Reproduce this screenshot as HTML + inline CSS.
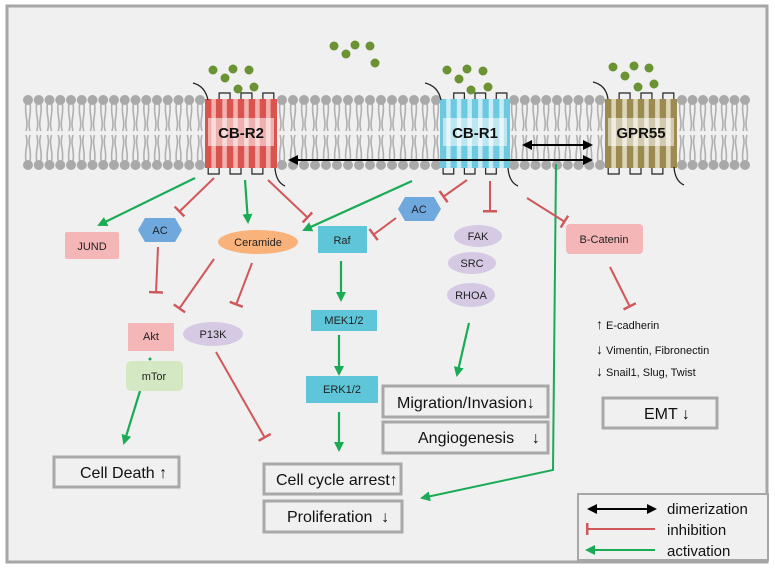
<!DOCTYPE html>
<html><head><meta charset="utf-8"><style>
html,body{margin:0;padding:0;background:#fff}
svg{display:block}
text{font-family:"Liberation Sans",sans-serif}
</style></head><body>
<svg id="s" width="775" height="570" viewBox="0 0 775 570" xmlns="http://www.w3.org/2000/svg">
<defs>
<marker id="ga" markerWidth="10" markerHeight="10" refX="8" refY="5" orient="auto" markerUnits="userSpaceOnUse"><path d="M0,0 L10,5 L0,10 z" fill="#1aab55"/></marker>
<marker id="ka" markerWidth="10" markerHeight="10" refX="8" refY="5" orient="auto-start-reverse" markerUnits="userSpaceOnUse"><path d="M0,0 L10,5 L0,10 z" fill="#000"/></marker>
<marker id="rb" markerWidth="4" markerHeight="14" refX="2" refY="7" orient="auto" markerUnits="userSpaceOnUse"><rect x="0" y="0" width="2.5" height="14" fill="#d0585a"/></marker>
</defs>
<rect x="7" y="6" width="760" height="556" fill="#f0f0f0" stroke="#a6a6a6" stroke-width="3"/>
<g id="mem"></g>
<g id="rec"></g>
<g fill="#6b9334">
<circle cx="213" cy="70" r="4.5"/><circle cx="233" cy="69" r="4.5"/><circle cx="249" cy="70" r="4.5"/><circle cx="225" cy="78" r="4.5"/><circle cx="238" cy="89" r="4.5"/><circle cx="254" cy="87" r="4.5"/>
<circle cx="334" cy="46" r="4.5"/><circle cx="355" cy="45" r="4.5"/><circle cx="370" cy="46" r="4.5"/><circle cx="346" cy="54" r="4.5"/><circle cx="375" cy="63" r="4.5"/>
<circle cx="447" cy="70" r="4.5"/><circle cx="467" cy="69" r="4.5"/><circle cx="483" cy="71" r="4.5"/><circle cx="459" cy="79" r="4.5"/><circle cx="471" cy="90" r="4.5"/><circle cx="488" cy="87" r="4.5"/>
<circle cx="613" cy="67" r="4.5"/><circle cx="634" cy="66" r="4.5"/><circle cx="649" cy="68" r="4.5"/><circle cx="625" cy="76" r="4.5"/><circle cx="638" cy="87" r="4.5"/><circle cx="654" cy="84" r="4.5"/>
</g>
<g fill="none" stroke="#222" stroke-width="1.3">
<path d="M193,83 Q205,86 208,100"/><path d="M275,168 Q276,182 285,186"/>
<path d="M425,83 Q438,86 441,100"/><path d="M508,168 Q509,182 518,186"/>
<path d="M593,82 Q606,85 608,99"/><path d="M674,167 Q675,181 684,185"/>
</g>
<!-- dimerization arrows -->
<line x1="290" y1="160" x2="591" y2="160" stroke="#000" stroke-width="2" marker-start="url(#ka)" marker-end="url(#ka)"/>
<line x1="524" y1="145" x2="591" y2="145" stroke="#000" stroke-width="2" marker-start="url(#ka)" marker-end="url(#ka)"/>
<!-- green long -->
<polyline points="556,164 553,470 422,498" fill="none" stroke="#1aab55" stroke-width="2" marker-end="url(#ga)"/>
<!-- green arrows -->
<g stroke="#1aab55" stroke-width="2.2" fill="none" marker-end="url(#ga)">
<line x1="195" y1="178" x2="99" y2="225"/>
<line x1="245" y1="180" x2="248" y2="222"/>
<line x1="412" y1="181" x2="304" y2="230"/>
<line x1="341" y1="261" x2="341" y2="300"/>
<line x1="339" y1="335" x2="339" y2="374"/>
<line x1="339" y1="412" x2="339" y2="450"/>
<line x1="140" y1="391" x2="124" y2="443"/>
<line x1="469" y1="323" x2="457" y2="375"/>
</g>
<circle cx="150" cy="359" r="1.5" fill="#1aab55"/>
<!-- red inhibition -->
<g stroke="#d0585a" stroke-width="2" fill="none" marker-end="url(#rb)">
<line x1="214" y1="178" x2="179" y2="212"/>
<line x1="268" y1="180" x2="308" y2="218"/>
<line x1="158" y1="247" x2="156" y2="293"/>
<line x1="214" y1="259" x2="179" y2="309"/>
<line x1="252" y1="263" x2="236" y2="305"/>
<line x1="467" y1="180" x2="443" y2="197"/>
<line x1="490" y1="181" x2="490" y2="212"/>
<line x1="527" y1="198" x2="565" y2="222"/>
<line x1="396" y1="218" x2="373" y2="235"/>
<line x1="216" y1="352" x2="265" y2="438"/>
<line x1="610" y1="267" x2="630" y2="307"/>
</g>
<!-- nodes -->
<rect x="65" y="232" width="54" height="27" rx="2" fill="#f4b6b7"/>
<text x="92" y="250" font-size="11" text-anchor="middle" fill="#222">JUND</text>
<polygon points="138,230 145,218 175,218 182,230 175,242 145,242" fill="#6fa8dc"/>
<text x="160" y="234" font-size="11" text-anchor="middle" fill="#222">AC</text>
<ellipse cx="258" cy="242" rx="40" ry="12" fill="#f9b27a"/>
<text x="258" y="246" font-size="11" text-anchor="middle" fill="#222">Ceramide</text>
<rect x="318" y="226" width="49" height="27" fill="#5ec6d8"/>
<text x="342" y="244" font-size="11" text-anchor="middle" fill="#222">Raf</text>
<polygon points="398,209 405,197 434,197 441,209 434,221 405,221" fill="#6fa8dc"/>
<text x="419" y="213" font-size="11" text-anchor="middle" fill="#222">AC</text>
<g fill="#d5c9e3"><ellipse cx="478" cy="236" rx="24" ry="11"/><ellipse cx="472" cy="263" rx="24" ry="11"/><ellipse cx="471" cy="295" rx="24" ry="12"/></g>
<g font-size="11" text-anchor="middle" fill="#222"><text x="478" y="240">FAK</text><text x="472" y="267">SRC</text><text x="471" y="299">RHOA</text></g>
<rect x="566" y="224" width="77" height="30" rx="4" fill="#f4b6b7"/>
<text x="604" y="243" font-size="11" text-anchor="middle" fill="#222">B-Catenin</text>
<rect x="311" y="310" width="66" height="21" fill="#5ec6d8"/>
<text x="344" y="324" font-size="11" text-anchor="middle" fill="#222">MEK1/2</text>
<rect x="306" y="376" width="72" height="27" fill="#5ec6d8"/>
<text x="342" y="393" font-size="11" text-anchor="middle" fill="#222">ERK1/2</text>
<rect x="128" y="323" width="46" height="28" fill="#f4b6b7"/>
<text x="151" y="340" font-size="11" text-anchor="middle" fill="#222">Akt</text>
<rect x="126" y="361" width="57" height="30" rx="5" fill="#d5e8c4"/>
<text x="154" y="380" font-size="11" text-anchor="middle" fill="#222">mTor</text>
<ellipse cx="213" cy="334" rx="30" ry="12" fill="#d5c9e3"/>
<text x="213" y="338" font-size="11" text-anchor="middle" fill="#222">P13K</text>
<!-- outcome boxes -->
<g fill="none" stroke="#a8a8a8" stroke-width="3">
<rect x="54" y="457" width="125" height="30"/>
<rect x="264" y="464" width="137" height="30"/>
<rect x="264" y="501" width="138" height="31"/>
<rect x="383" y="386" width="165" height="31"/>
<rect x="383" y="422" width="165" height="31"/>
<rect x="603" y="398" width="114" height="30"/>
</g>
<g font-size="16" fill="#111">
<text x="80" y="478">Cell Death ↑</text>
<text x="276" y="485">Cell cycle arrest↑</text>
<text x="287" y="522">Proliferation&#160; ↓</text>
<text x="397" y="408">Migration/Invasion↓</text>
<text x="418" y="443">Angiogenesis&#160;&#160;&#160; ↓</text>
<text x="644" y="419">EMT ↓</text>
</g>
<g font-size="11" fill="#111">
<text x="596" y="329"><tspan font-size="14" font-weight="bold">↑</tspan> E-cadherin</text>
<text x="596" y="354"><tspan font-size="14" font-weight="bold">↓</tspan> Vimentin, Fibronectin</text>
<text x="596" y="376"><tspan font-size="14" font-weight="bold">↓</tspan> Snail1, Slug, Twist</text>
</g>
<!-- legend -->
<rect x="578" y="494" width="190" height="66" fill="#f0f0f0" stroke="#a6a6a6" stroke-width="2"/>
<line x1="589" y1="509" x2="655" y2="509" stroke="#000" stroke-width="2" marker-start="url(#ka)" marker-end="url(#ka)"/>
<line x1="588" y1="529" x2="655" y2="529" stroke="#d0585a" stroke-width="2"/>
<rect x="586" y="523" width="2.5" height="12" fill="#d0585a"/>
<line x1="589" y1="550" x2="655" y2="550" stroke="#1aab55" stroke-width="2" marker-start="url(#ka2)"/>
<path d="M585,550 L595,545 L595,555 z" fill="#1aab55"/>
<g font-size="15" fill="#111"><text x="667" y="514">dimerization</text><text x="667" y="535">inhibition</text><text x="667" y="556">activation</text></g>
</svg>
<script>
var NS="http://www.w3.org/2000/svg",mem=document.getElementById("mem"),rec=document.getElementById("rec");
function el(p,t,a){var e=document.createElementNS(NS,t);for(var k in a)e.setAttribute(k,a[k]);p.appendChild(e);return e;}
var segs=[[28,200],[282,436],[514,600],[682,745]];
segs.forEach(function(s){
 var n=Math.round((s[1]-s[0])/11);var sp=(s[1]-s[0])/n;
 for(var i=0;i<=n;i++){var x=s[0]+i*sp;
  el(mem,"path",{d:"M"+(x-2)+",103 C"+(x-4)+",115 "+(x+1)+",120 "+(x-2)+",131 M"+(x+2)+",103 C"+(x+4)+",115 "+(x-1)+",120 "+(x+2)+",131",fill:"none",stroke:"#b0b0b0","stroke-width":"1.6"});
  el(mem,"path",{d:"M"+(x-2)+",161 C"+(x-4)+",150 "+(x+1)+",145 "+(x-2)+",135 M"+(x+2)+",161 C"+(x+4)+",150 "+(x-1)+",145 "+(x+2)+",135",fill:"none",stroke:"#b0b0b0","stroke-width":"1.6"});
  el(mem,"circle",{cx:x,cy:100,r:5,fill:"#a9a9a9"});
  el(mem,"circle",{cx:x,cy:165,r:5,fill:"#a9a9a9"});
 }});
function R(x0,x1,col,light,label){
 var w=(x1-x0);var bw=w/7*0.62;var step=(w-bw)/6;
 el(rec,"rect",{x:x0,y:99,width:w,height:69,fill:light});
 for(var i=0;i<7;i++){var x=x0+i*step;
  el(rec,"rect",{x:x,y:99,width:bw,height:69,fill:col});}
 for(var i=0;i<6;i++){var x=x0+i*step+bw/2;
  if(i%2==1)el(rec,"path",{d:"M"+x+",99 V93 H"+(x+step)+" V99",fill:"none",stroke:"#222","stroke-width":"1.2"});
  else el(rec,"path",{d:"M"+x+",168 V174 H"+(x+step)+" V168",fill:"none",stroke:"#222","stroke-width":"1.2"});}
 el(rec,"rect",{x:x0+3,y:118,width:w-6,height:28,fill:"rgba(255,255,255,0.55)"});
 var t=el(rec,"text",{x:(x0+x1)/2,y:138,"font-size":"15","font-weight":"bold","text-anchor":"middle",fill:"#111"});t.textContent=label;
}
R(205,277,"#d9534f","#f2b0ae","CB-R2");
R(440,510,"#6cc9e0","#c8ecf5","CB-R1");
R(605,677,"#9c8b50","#ddd5b8","GPR55");
</script>
</body></html>
